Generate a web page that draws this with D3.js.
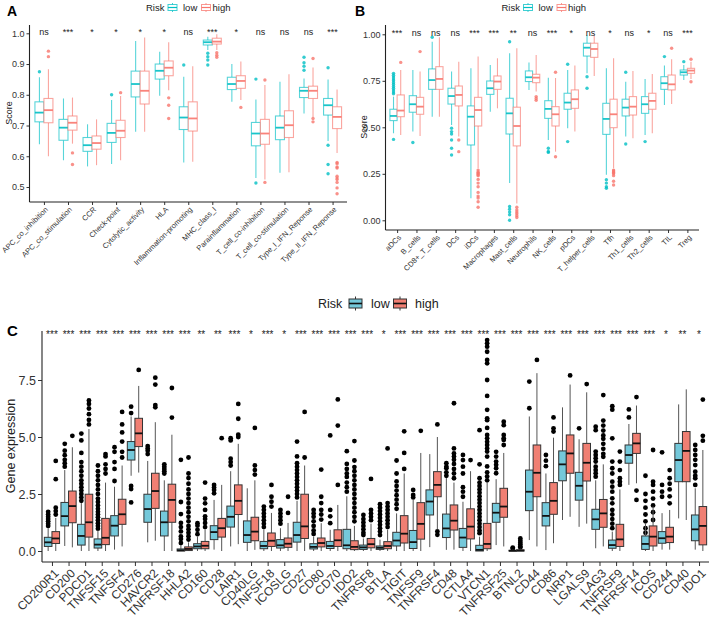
<!DOCTYPE html>
<html>
<head>
<meta charset="utf-8">
<title>Risk groups</title>
<script src="https://d3js.org/d3.v7.min.js"></script>
<style>
  body { margin: 0; background: #fff; }
  svg { font-family: "Liberation Sans", Arial, sans-serif; }
</style>
</head>
<body>
<svg id="fig" width="709" height="619"></svg>
<script>
// ---- panel A : immune function scores ----
var catsA = ["APC_co_inhibition", "APC_co_stimulation", "CCR", "Check-point", "Cytolytic_activity", "HLA",
  "Inflammation-promoting", "MHC_class_I", "Parainflammation", "T_cell_co-inhibition", "T_cell_co-stimulation",
  "Type_I_IFN_Reponse", "Type_II_IFN_Reponse"];
var sigA = ["ns", "***", "*", "*", "*", "*", "ns", "***", "*", "ns", "ns", "ns", "***"];
// [lower whisker, q1, median, q3, upper whisker]
var lowA = [[0.639, 0.712, 0.742, 0.777, 0.857], [0.587, 0.652, 0.693, 0.72, 0.788], [0.567, 0.616, 0.636, 0.661, 0.704],
  [0.575, 0.645, 0.676, 0.707, 0.783], [0.68, 0.793, 0.835, 0.877, 0.975], [0.797, 0.851, 0.878, 0.9, 0.94],
  [0.58, 0.687, 0.726, 0.761, 0.859], [0.946, 0.962, 0.971, 0.978, 0.989], [0.777, 0.817, 0.835, 0.857, 0.9],
  [0.529, 0.634, 0.674, 0.71, 0.785], [0.546, 0.654, 0.693, 0.731, 0.842], [0.739, 0.791, 0.813, 0.824, 0.853],
  [0.65, 0.734, 0.766, 0.788, 0.85]];
var highA = [[0.6, 0.709, 0.75, 0.788, 0.883], [0.641, 0.685, 0.709, 0.731, 0.791], [0.571, 0.623, 0.643, 0.666, 0.72],
  [0.587, 0.661, 0.683, 0.717, 0.796], [0.68, 0.77, 0.813, 0.877, 0.986], [0.815, 0.862, 0.888, 0.91, 0.971],
  [0.582, 0.682, 0.723, 0.777, 0.893], [0.946, 0.965, 0.973, 0.984, 0.997], [0.783, 0.821, 0.845, 0.862, 0.908],
  [0.524, 0.639, 0.674, 0.72, 0.832], [0.548, 0.661, 0.701, 0.748, 0.867], [0.728, 0.788, 0.813, 0.828, 0.889],
  [0.611, 0.69, 0.728, 0.761, 0.817]];
var lowOutA = [[0.875], [], [], [0.8], [], [], [0.897], [0.935, 0.924, 0.913, 0.897], [], [0.851, 0.513], [],
  [0.88, 0.893, 0.904, 0.922], [0.888, 0.636, 0.573, 0.543]];
var highOutA = [[0.924, 0.942], [0.611, 0.573], [], [0.807], [], [0.79, 0.766, 0.723], [], [0.937, 0.929, 0.922],
  [0.759], [0.848, 0.515], [], [0.918, 0.723, 0.712],
  [0.58, 0.576, 0.565, 0.562, 0.535, 0.529, 0.524, 0.515, 0.497, 0.478]];

// ---- panel B : immune cell scores ----
var catsB = ["aDCs", "B_cells", "CD8+_T_cells", "DCs", "iDCs", "Macrophages", "Mast_cells", "Neutrophils",
  "NK_cells", "pDCs", "T_helper_cells", "Tfh", "Th1_cells", "Th2_cells", "TIL", "Treg"];
var sigB = ["***", "ns", "ns", "ns", "***", "***", "**", "ns", "***", "*", "ns", "*", "ns", "*", "ns", "***"];
var lowB = [[0.468, 0.536, 0.561, 0.597, 0.665], [0.477, 0.581, 0.624, 0.67, 0.808], [0.557, 0.704, 0.754, 0.814, 0.96],
  [0.513, 0.625, 0.668, 0.71, 0.8], [0.119, 0.405, 0.557, 0.615, 0.817], [0.584, 0.677, 0.71, 0.749, 0.835],
  [0.2, 0.464, 0.575, 0.656, 0.898], [0.701, 0.746, 0.769, 0.803, 0.848], [0.432, 0.548, 0.599, 0.643, 0.767],
  [0.495, 0.597, 0.633, 0.683, 0.808], [0.79, 0.883, 0.928, 0.952, 0.996], [0.245, 0.462, 0.545, 0.629, 0.817],
  [0.45, 0.561, 0.606, 0.651, 0.745], [0.459, 0.575, 0.624, 0.665, 0.76], [0.62, 0.704, 0.737, 0.772, 0.832],
  [0.754, 0.781, 0.796, 0.808, 0.835]];
var highB = [[0.459, 0.557, 0.59, 0.674, 0.808], [0.453, 0.57, 0.611, 0.661, 0.8], [0.557, 0.704, 0.76, 0.826, 0.984],
  [0.45, 0.615, 0.674, 0.722, 0.853], [0.28, 0.507, 0.593, 0.661, 0.88], [0.602, 0.704, 0.746, 0.776, 0.871],
  [0.09, 0.4, 0.507, 0.608, 0.925], [0.692, 0.74, 0.767, 0.785, 0.889], [0.369, 0.507, 0.57, 0.611, 0.765],
  [0.477, 0.602, 0.651, 0.701, 0.832], [0.776, 0.876, 0.921, 0.952, 0.993], [0.28, 0.498, 0.57, 0.651, 0.871],
  [0.441, 0.566, 0.611, 0.665, 0.803], [0.468, 0.597, 0.642, 0.683, 0.787], [0.625, 0.701, 0.731, 0.781, 0.866],
  [0.76, 0.79, 0.805, 0.817, 0.853]];
var lowOutB = [[0.435, 0.68, 0.69, 0.7, 0.71, 0.72, 0.73, 0.74, 0.75, 0.76, 0.77, 0.78, 0.79], [0.418], [0.984],
  [0.495, 0.477, 0.464, 0.432, 0.387, 0.351], [], [], [0.96, 0.074, 0.06, 0.045, 0.03, 0.0], [], [0.387, 0.37, 0.365],
  [0.839, 0.423], [0.772, 0.71], [0.218, 0.2, 0.18, 0.172], [0.796, 0.41], [0.423], [0.88], [0.853]];
var highOutB = [[0.849], [0.907], [], [0.432, 0.369],
  [0.27, 0.26, 0.255, 0.25, 0.245, 0.24, 0.22, 0.2, 0.18, 0.15, 0.13, 0.12, 0.1, 0.07], [],
  [0.07, 0.055, 0.045, 0.035, 0.025, 0.015], [0.665, 0.655, 0.645], [0.796, 0.342], [], [],
  [0.27, 0.265, 0.26, 0.255, 0.25, 0.24, 0.21, 0.19], [], [], [0.925], [0.866, 0.745]];

// ---- panel C : immune checkpoint gene expression ----
var catsC = ["CD200R1", "CD200", "PDCD1", "TNFSF15", "TNFSF4", "CD276", "HAVCR2", "TNFRSF18", "HHLA2", "CD160",
  "CD28", "LAIR1", "CD40LG", "TNFSF18", "ICOSLG", "CD27", "CD80", "CD70", "IDO2", "TNFRSF8", "BTLA", "TIGIT",
  "TNFSF9", "TNFRSF4", "CD48", "CTLA4", "VTCN1", "TNFRSF25", "BTNL2", "CD44", "CD86", "NRP1", "LGALS9", "LAG3",
  "TNFRSF9", "TNFRSF14", "ICOS", "CD244", "CD40", "IDO1"];
var sigC = ["***", "***", "***", "***", "***", "***", "***", "***", "***", "**", "**", "***", "*", "***", "*",
  "***", "***", "***", "***", "***", "*", "***", "***", "***", "***", "***", "***", "***", "***", "***", "***",
  "***", "***", "***", "***", "***", "***", "*", "**", "*"];
var lowC = [[0, 0.2, 0.38, 0.6, 1.0], [0.22, 1.1, 1.53, 2.13, 3.55], [0, 0.26, 0.66, 1.17, 2.1],
  [0, 0.13, 0.28, 0.53, 0.9], [0.06, 0.66, 1.11, 1.55, 2.82], [3.3, 3.99, 4.43, 4.8, 5.9],
  [0.38, 1.26, 1.84, 2.49, 3.95], [0, 0.66, 1.26, 1.75, 3.1], [0, 0, 0.03, 0.09, 0.25],
  [0, 0.1, 0.2, 0.32, 0.64], [0.06, 0.5, 0.83, 1.11, 2.24], [0.2, 1.05, 1.5, 1.97, 3.5],
  [0, 0.38, 0.7, 1.32, 2.75], [0, 0.1, 0.22, 0.42, 0.93], [0, 0.13, 0.25, 0.5, 1.0],
  [0, 0.39, 0.7, 1.26, 2.2], [0, 0.09, 0.18, 0.32, 0.64], [0, 0.11, 0.22, 0.42, 0.93],
  [0, 0.1, 0.25, 0.95, 2.4], [0, 0.07, 0.16, 0.26, 0.55], [0, 0.07, 0.14, 0.22, 0.5],
  [0, 0.22, 0.46, 0.82, 1.65], [0, 0.11, 0.39, 0.9, 2.24], [0.17, 1.58, 2.17, 2.68, 4.25],
  [0.05, 0.59, 0.99, 1.62, 3.2], [0, 0.16, 0.59, 0.99, 2.16], [0, 0, 0.05, 0.25, 0.63],
  [0.26, 1.26, 1.68, 2.09, 3.15], [0, 0, 0.01, 0.03, 0.06], [0.48, 1.77, 2.6, 3.55, 5.9],
  [0.04, 1.1, 1.54, 2.12, 3.4], [1.36, 3.08, 3.8, 4.39, 6.3], [1.06, 2.23, 2.86, 3.45, 4.9],
  [0.12, 0.95, 1.39, 1.83, 3.1], [0, 0.12, 0.26, 0.48, 0.85], [2.9, 3.85, 4.21, 4.65, 5.57],
  [0, 0.07, 0.31, 0.66, 1.2], [0.06, 0.34, 0.56, 0.85, 1.66], [1.43, 3.04, 3.99, 4.72, 6.43],
  [0.06, 0.45, 0.95, 1.58, 2.75]];
var highC = [[0, 0.33, 0.55, 0.85, 1.45], [0.16, 1.24, 1.97, 2.63, 4.55], [0, 0.61, 1.26, 2.49, 5.35],
  [0, 0.28, 0.58, 1.43, 3.0], [0.2, 1.17, 1.61, 2.27, 3.75], [3.44, 4.58, 5.16, 5.82, 7.24],
  [0.45, 1.87, 2.63, 3.41, 5.65], [0, 1.26, 2.24, 2.93, 5.1], [0, 0.02, 0.09, 0.18, 0.38],
  [0, 0.1, 0.23, 0.42, 0.93], [0, 0.61, 1.0, 1.43, 2.9], [0.3, 1.6, 2.2, 2.9, 4.7],
  [0.05, 0.45, 0.85, 1.48, 3.1], [0, 0.2, 0.45, 0.79, 1.67], [0, 0.16, 0.32, 0.57, 1.23],
  [0, 0.55, 1.08, 2.49, 3.75], [0, 0.18, 0.35, 0.57, 1.22], [0, 0.2, 0.47, 0.93, 2.02],
  [0, 0.06, 0.18, 0.45, 1.1], [0, 0.14, 0.3, 0.55, 1.2], [0, 0.1, 0.22, 0.41, 0.92],
  [0, 0.35, 0.76, 1.55, 3.4], [0, 0.52, 1.19, 2.12, 4.3], [0.95, 2.38, 2.9, 3.48, 5.0],
  [0.06, 0.92, 1.33, 2.02, 3.0], [0, 0.53, 1.07, 1.85, 3.5], [0, 0.1, 0.31, 1.21, 3.0],
  [0.2, 1.48, 1.95, 2.75, 4.3], [0, 0, 0.02, 0.05, 0.1], [0.2, 2.38, 3.43, 4.65, 7.8],
  [0.34, 1.61, 2.2, 3.0, 4.97], [1.5, 3.41, 4.28, 5.09, 7.3], [1.2, 3.07, 3.87, 4.72, 6.96],
  [0.2, 1.04, 1.65, 2.26, 3.8], [0, 0.2, 0.51, 1.17, 2.7], [2.97, 4.28, 4.72, 5.16, 6.38],
  [0, 0.22, 0.63, 1.1, 1.95], [0.06, 0.37, 0.63, 1.04, 1.8], [1.36, 3.04, 4.39, 5.24, 7.09],
  [0, 0.27, 1.1, 1.95, 4.43]];
var lowOutC = [[1.1, 1.2, 1.3, 1.4, 1.5, 1.6, 1.72], [3.7, 3.85, 4.0, 4.2, 4.4, 4.7],
  [2.2, 2.35, 2.5, 2.65, 2.8, 2.95, 3.1, 3.3, 3.5, 3.7, 3.9, 4.3, 4.85, 5.15],
  [0.98, 1.1, 1.22, 1.35, 1.48, 1.6, 1.72, 1.85, 2.0, 2.15, 2.3, 2.5, 2.7, 2.9, 3.1, 3.3, 3.5, 3.75],
  [3.07, 3.6, 3.9, 4.35, 4.55], [6.05, 6.33, 2.85, 2.72, 2.13], [4.25, 4.4, 4.5, 4.6],
  [3.4, 3.5, 3.6, 3.7, 3.8], [0.35, 0.53, 0.64, 0.86, 1.05, 1.23, 1.62, 2.15, 4.0], [0.74, 0.93, 1.11, 1.22],
  [2.53, 2.68, 2.78, 2.9], [3.75, 3.9, 4.05, 4.85, 4.95], [], [1.05, 1.2, 1.35, 1.5, 1.65, 1.8, 1.95],
  [1.2, 1.35, 1.5, 1.65, 1.8],
  [2.35, 2.5, 2.65, 2.8, 2.95, 3.1, 3.25, 3.4, 3.55, 3.7, 3.85, 4.15, 4.8],
  [0.75, 0.9, 1.1, 1.3, 1.5, 1.65, 1.8], [1.22, 1.52, 1.8, 5.07], [2.6, 2.8, 3.0, 3.25, 3.4, 3.6, 3.82, 4.38],
  [0.7, 0.8, 0.95, 1.1, 1.25, 1.4, 1.58], [0.7, 0.85, 1.0, 1.15, 1.3, 1.45, 1.6, 1.75, 1.9, 2.05],
  [1.85, 2.05, 2.25, 2.45, 2.65, 2.85, 3.05, 3.4, 3.97], [2.35, 2.46, 2.68], [], [3.3, 3.45, 3.63, 3.7, 3.85],
  [2.38, 2.6, 2.8, 3.4, 3.7, 3.99, 4.21],
  [0.78, 0.9, 1.05, 1.2, 1.35, 1.5, 1.65, 1.8, 1.95, 2.1, 2.25, 2.4, 2.55, 2.7, 2.85, 3.0, 3.19, 3.8, 5.3],
  [3.41, 3.63, 3.78, 3.92, 4.14, 4.35], [0.1, 0.15], [6.26, 7.43], [3.72, 3.96, 4.21], [], [5.38],
  [3.26, 3.41, 3.55, 3.7, 3.92, 4.07, 4.21, 4.36, 5.3, 5.45],
  [1.0, 1.2, 1.4, 1.6, 1.8, 2.09, 2.31, 2.6, 2.82, 3.04, 3.4, 3.63, 3.92, 4.94, 6.2, 6.35], [5.86, 6.21],
  [0.8, 1.0, 1.3, 1.6, 1.9, 2.2, 2.5, 3.3], [2.38, 2.6, 2.9, 4.33], [],
  [2.9, 3.19, 3.3, 3.48, 3.77, 4.0, 4.21, 4.43, 4.65]];
var highOutC = [[1.6, 1.75, 1.9, 3.15, 3.95], [5.05], [5.55, 5.75, 6.0, 6.25, 6.45, 6.6], [3.4, 3.6, 3.8, 4.15, 4.25],
  [4.1, 4.35, 4.8, 5.2, 5.55, 6.1], [7.94], [6.3, 6.4, 7.3, 7.6], [5.85, 7.15],
  [0.5, 0.65, 0.8, 0.95, 1.1, 1.3, 1.5, 1.7, 1.9, 2.1, 2.3, 2.5, 2.7, 2.95, 3.2, 3.4, 4.1],
  [1.05, 1.23, 1.4, 1.52, 1.8, 2.09, 2.3, 3.0], [4.95], [5.0, 5.1, 5.8, 6.45], [3.35, 3.55, 3.75, 5.4],
  [1.95, 2.16, 2.38, 2.9], [1.67, 2.38], [4.1, 6.1], [1.38, 1.6, 1.8, 2.1, 2.38, 3.57], [2.9, 5.5, 6.65],
  [1.3, 1.5, 1.7, 1.9, 2.1, 2.3, 2.5, 2.7, 2.9, 3.1, 3.3, 3.5, 3.68, 3.97, 4.82], [1.35, 1.5, 1.65, 1.8, 3.16],
  [1.05, 1.2, 1.35, 1.5, 1.65, 1.8, 1.95, 2.1, 4.5], [3.6, 4.3, 5.25], [5.27], [0.86, 0.71, 5.55],
  [3.19, 3.4, 3.6, 3.82, 4.0, 4.14, 4.28, 4.5, 6.48], [3.99],
  [3.1, 3.27, 3.45, 3.71, 4.14, 4.36, 4.5, 4.65, 4.79, 4.94, 5.09, 5.4, 5.74, 5.82, 6.19, 6.8, 7.5, 8.23, 8.38,
    8.74, 8.96, 9.11, 9.25],
  [4.65, 4.87, 4.94, 5.09, 5.52, 5.67], [0.15, 0.2, 0.28, 0.36, 0.45, 0.55], [8.38], [5.24, 5.38, 5.86], [7.7],
  [7.32], [4.13, 4.26, 4.48, 4.7, 4.92, 5.07, 5.28, 5.5, 5.72, 6.84], [2.9, 3.04, 3.19, 3.55, 3.92, 4.36],
  [6.75, 2.65, 2.24], [1.36, 1.7, 2.0, 2.3, 2.6, 2.9, 3.04, 4.43], [2.09, 2.4, 2.7, 2.95, 3.19, 3.55], [],
  [4.84, 5.05, 6.64]];

var svg = d3.select('#fig');

function drawPanel(p) {
  var x = d3.scalePoint().domain(p.cats).range([p.left, p.right]).padding(0.6);
  var y = d3.scaleLinear().domain(p.yDomain).range(p.yRange);
  var g = svg.append('g');

  var ya = g.append('g').attr('transform', 'translate(' + p.left + ',0)')
    .call(d3.axisLeft(y).tickValues(p.yTicks).tickFormat(d3.format(p.yFmt)).tickSize(p.tickLen).tickPadding(2));
  ya.select('.domain').remove();
  ya.selectAll('line').attr('stroke', '#333');
  ya.selectAll('text').attr('fill', '#333').style('font-size', p.font + 'px');

  var xa = g.append('g').attr('transform', 'translate(0,' + p.bottom + ')')
    .call(d3.axisBottom(x).tickSize(p.tickLen).tickSizeOuter(0));
  xa.select('.domain').remove();
  xa.selectAll('line').attr('stroke', '#333');
  xa.selectAll('text')
    .attr('y', null).attr('dy', null)
    .attr('transform', 'translate(' + p.lblDx + ',' + p.lblDy + ') rotate(-45)')
    .style('text-anchor', 'end')
    .attr('fill', '#333')
    .style('font-size', p.xFont + 'px');

  // axis lines
  g.append('line').attr('x1', p.left).attr('x2', p.left).attr('y1', p.top).attr('y2', p.bottom)
    .attr('stroke', '#222').attr('stroke-width', 1.1);
  g.append('line').attr('x1', p.left).attr('x2', p.right).attr('y1', p.bottom).attr('y2', p.bottom)
    .attr('stroke', '#222').attr('stroke-width', 1.1);

  var groups = [
    { stats: p.low, out: p.lowOut, sign: -1, color: p.colors[0] },
    { stats: p.high, out: p.highOut, sign: 1, color: p.colors[1] }
  ];
  groups.forEach(function(gr) {
    var rows = p.cats.map(function(c, i) {
      return { cx: x(c) + gr.sign * p.off, s: gr.stats[i], out: gr.out[i] };
    });
    var bg = g.append('g').selectAll('g').data(rows).enter().append('g');
    var hw = p.boxW / 2;
    var lineCol = p.filled ? p.whisker : gr.color;
    var op = p.filled ? 1 : p.strokeOp;

    bg.selectAll('circle').data(function(d) { return d.out.map(function(v) { return { cx: d.cx, v: v }; }); })
      .enter().append('circle')
      .attr('cx', function(d) { return d.cx; })
      .attr('cy', function(d) { return y(d.v); })
      .attr('r', p.dotR)
      .attr('fill', p.filled ? '#000' : gr.color)
      .attr('fill-opacity', p.filled ? 1 : 0.8);

    bg.append('line')
      .attr('x1', function(d) { return d.cx; }).attr('x2', function(d) { return d.cx; })
      .attr('y1', function(d) { return y(d.s[4]); }).attr('y2', function(d) { return y(d.s[3]); })
      .attr('stroke', lineCol).attr('stroke-opacity', op).attr('stroke-width', p.lw);
    bg.append('line')
      .attr('x1', function(d) { return d.cx; }).attr('x2', function(d) { return d.cx; })
      .attr('y1', function(d) { return y(d.s[1]); }).attr('y2', function(d) { return y(d.s[0]); })
      .attr('stroke', lineCol).attr('stroke-opacity', op).attr('stroke-width', p.lw);
    bg.append('rect')
      .attr('x', function(d) { return d.cx - hw; })
      .attr('y', function(d) { return y(d.s[3]); })
      .attr('width', p.boxW)
      .attr('height', function(d) { return Math.max(0.5, y(d.s[1]) - y(d.s[3])); })
      .attr('fill', p.filled ? gr.color : '#fff')
      .attr('stroke', p.filled ? '#333' : gr.color)
      .attr('stroke-opacity', op)
      .attr('stroke-width', p.lw);
    bg.append('line')
      .attr('x1', function(d) { return d.cx - hw; }).attr('x2', function(d) { return d.cx + hw; })
      .attr('y1', function(d) { return y(d.s[2]); }).attr('y2', function(d) { return y(d.s[2]); })
      .attr('stroke', p.filled ? '#111' : gr.color)
      .attr('stroke-opacity', p.filled ? 1 : 0.9)
      .attr('stroke-width', p.medW);
  });

  g.append('g').selectAll('text').data(p.cats).enter().append('text')
    .attr('x', function(c) { return x(c); })
    .attr('y', p.sigY)
    .attr('text-anchor', 'middle')
    .style('font-size', p.sigFont + 'px')
    .attr('fill', '#222')
    .text(function(c, i) { return p.sig[i]; });

  g.append('text')
    .attr('transform', 'translate(' + p.ylabX + ',' + p.ylabY + ') rotate(-90)')
    .attr('text-anchor', 'middle')
    .style('font-size', p.font + 'px')
    .attr('fill', '#222')
    .text(p.ylab);

  g.append('text').attr('x', p.title[1]).attr('y', p.title[2])
    .style('font-size', p.titleSize + 'px').style('font-weight', 'bold')
    .text(p.title[0]);
}

function drawLegend(l) {
  var g = svg.append('g');
  g.append('text').attr('x', l.x).attr('y', l.cy).attr('dy', '0.35em')
    .style('font-size', l.font + 'px').attr('fill', '#222').text('Risk');
  l.keys.forEach(function(k, i) {
    var cx = k[0], col = l.colors[i];
    var kg = g.append('g');
    var strokeCol = l.filled ? '#333' : col;
    kg.append('line').attr('x1', cx).attr('x2', cx).attr('y1', l.cy - l.h / 2 - l.wh).attr('y2', l.cy + l.h / 2 + l.wh)
      .attr('stroke', strokeCol).attr('stroke-opacity', l.filled ? 1 : 0.75);
    kg.append('rect').attr('x', cx - l.w / 2).attr('y', l.cy - l.h / 2).attr('width', l.w).attr('height', l.h)
      .attr('fill', l.filled ? col : '#fff').attr('stroke', strokeCol).attr('stroke-opacity', l.filled ? 1 : 0.75);
    kg.append('line').attr('x1', cx - l.w / 2).attr('x2', cx + l.w / 2).attr('y1', l.cy).attr('y2', l.cy)
      .attr('stroke', l.filled ? '#111' : col).attr('stroke-width', l.filled ? 1.6 : 1.2);
    g.append('text').attr('x', k[1]).attr('y', l.cy).attr('dy', '0.35em')
      .style('font-size', l.font + 'px').attr('fill', '#222').text(k[2]);
  });
}

var colAB = ['#00BFC4', '#F8766D'];
var colC = ['#74C8DA', '#F07F73'];

drawPanel({
  cats: catsA, low: lowA, high: highA, lowOut: lowOutA, highOut: highOutA, sig: sigA,
  left: 29.5, right: 347, top: 25, bottom: 202,
  yDomain: [0.5, 1.0], yRange: [187, 33.3], yTicks: [0.5, 0.6, 0.7, 0.8, 0.9, 1.0], yFmt: '.1f',
  font: 9, xFont: 7.5, tickLen: 3, lblDx: 4, lblDy: 8, off: 4.5, boxW: 9, lw: 1.1, medW: 1.8, dotR: 1.7,
  filled: false, colors: colAB, strokeOp: 0.65, sigY: 35, sigFont: 9,
  ylab: 'Score', ylabX: 12, ylabY: 113, title: ['A', 7, 16], titleSize: 14
});
drawPanel({
  cats: catsB, low: lowB, high: highB, lowOut: lowOutB, highOut: highOutB, sig: sigB,
  left: 385.5, right: 699, top: 25, bottom: 230,
  yDomain: [0, 1.0], yRange: [220.3, 34.3], yTicks: [0, 0.25, 0.5, 0.75, 1.0], yFmt: '.2f',
  font: 9, xFont: 7.5, tickLen: 3, lblDx: 4, lblDy: 8, off: 3.6, boxW: 7.2, lw: 1.1, medW: 1.8, dotR: 1.7,
  filled: false, colors: colAB, strokeOp: 0.65, sigY: 36, sigFont: 9,
  ylab: 'Score', ylabX: 367, ylabY: 127, title: ['B', 355, 16], titleSize: 14
});
drawPanel({
  cats: catsC, low: lowC, high: highC, lowOut: lowOutC, highOut: highOutC, sig: sigC,
  left: 42, right: 709, top: 331, bottom: 562,
  yDomain: [0, 7.5], yRange: [551, 380], yTicks: [0, 2.5, 5, 7.5], yFmt: '.1f',
  font: 12.5, xFont: 12, tickLen: 4, lblDx: 7, lblDy: 12, off: 3.8, boxW: 7.6, lw: 1, medW: 1.8, dotR: 2.4,
  filled: true, whisker: '#555', colors: colC, sigY: 338, sigFont: 10,
  ylab: 'Gene expression', ylabX: 15, ylabY: 446, title: ['C', 7, 336], titleSize: 15
});

drawLegend({ x: 146, cy: 7.5, font: 9.5, w: 9, h: 6, wh: 1.5, filled: false, colors: colAB,
  keys: [[172.5, 183, 'low'], [206, 212.5, 'high']] });
drawLegend({ x: 501.5, cy: 7.5, font: 9.5, w: 9, h: 6, wh: 1.5, filled: false, colors: colAB,
  keys: [[528, 538.5, 'low'], [561.5, 568, 'high']] });
drawLegend({ x: 318, cy: 303.5, font: 12.5, w: 13, h: 9, wh: 2.5, filled: true, colors: colC,
  keys: [[355.5, 371, 'low'], [400, 415, 'high']] });
</script>
</body>
</html>
